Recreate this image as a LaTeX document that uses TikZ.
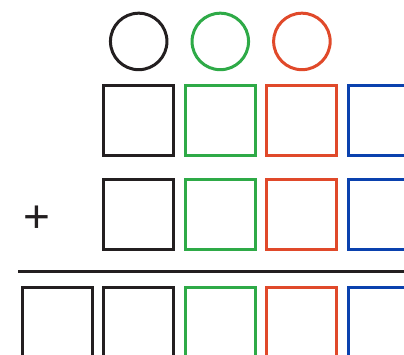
\documentclass[tikz,border=0pt]{standalone}
\usepackage{fontspec}
\newfontfamily\plusfont{Liberation Sans}
\usetikzlibrary{positioning}
\definecolor{ink}{HTML}{231F20}
\definecolor{leaf}{HTML}{2EAA47}
\definecolor{rust}{HTML}{E0492A}
\definecolor{navy}{HTML}{0A41AE}
\begin{document}
\begin{tikzpicture}[
  x=1pt, y=-1pt, node distance=8.6pt,
  box/.style={draw,line width=3pt,minimum size=70pt,inner sep=0pt},
  ring/.style={circle,draw,line width=3pt,minimum size=56.5pt,inner sep=0pt}
]
\useasboundingbox (0,0) rectangle (404,355);
% first row
\node[box,draw=ink] (a1) at (138.7,120.7) {};
\node[box,draw=leaf,right=of a1] (b1) {};
\node[box,draw=rust,right=of b1] (c1) {};
\node[box,draw=navy,right=of c1] (d1) {};
% circles on top
\node[ring,draw=ink,above=13pt of a1] (ka) {};
\node[ring,draw=leaf,above=13pt of b1] (kb) {};
\node[ring,draw=rust,above=13pt of c1] (kc) {};
% second row
\node[box,draw=ink,below=21pt of a1] (a2) {};
\node[box,draw=leaf,right=of a2] (b2) {};
\node[box,draw=rust,right=of b2] (c2) {};
\node[box,draw=navy,right=of c2] (d2) {};
\node[text=ink,font=\plusfont\fontsize{46}{46}\selectfont,inner sep=0pt] (plus) at (36.7,219) {+};
% sum line
\coordinate (rule-l) at (18.3,271.7);
\coordinate (rule-r) at (404,271.7);
\draw[ink,line width=3pt] (rule-l) -- (rule-r);
% result row
\node[box,draw=ink,below=34.6pt of a2] (a3) {};
\node[box,draw=ink,left=of a3] (z3) {};
\node[box,draw=leaf,right=of a3] (b3) {};
\node[box,draw=rust,right=of b3] (c3) {};
\node[box,draw=navy,right=of c3] (d3) {};
\end{tikzpicture}
\end{document}
